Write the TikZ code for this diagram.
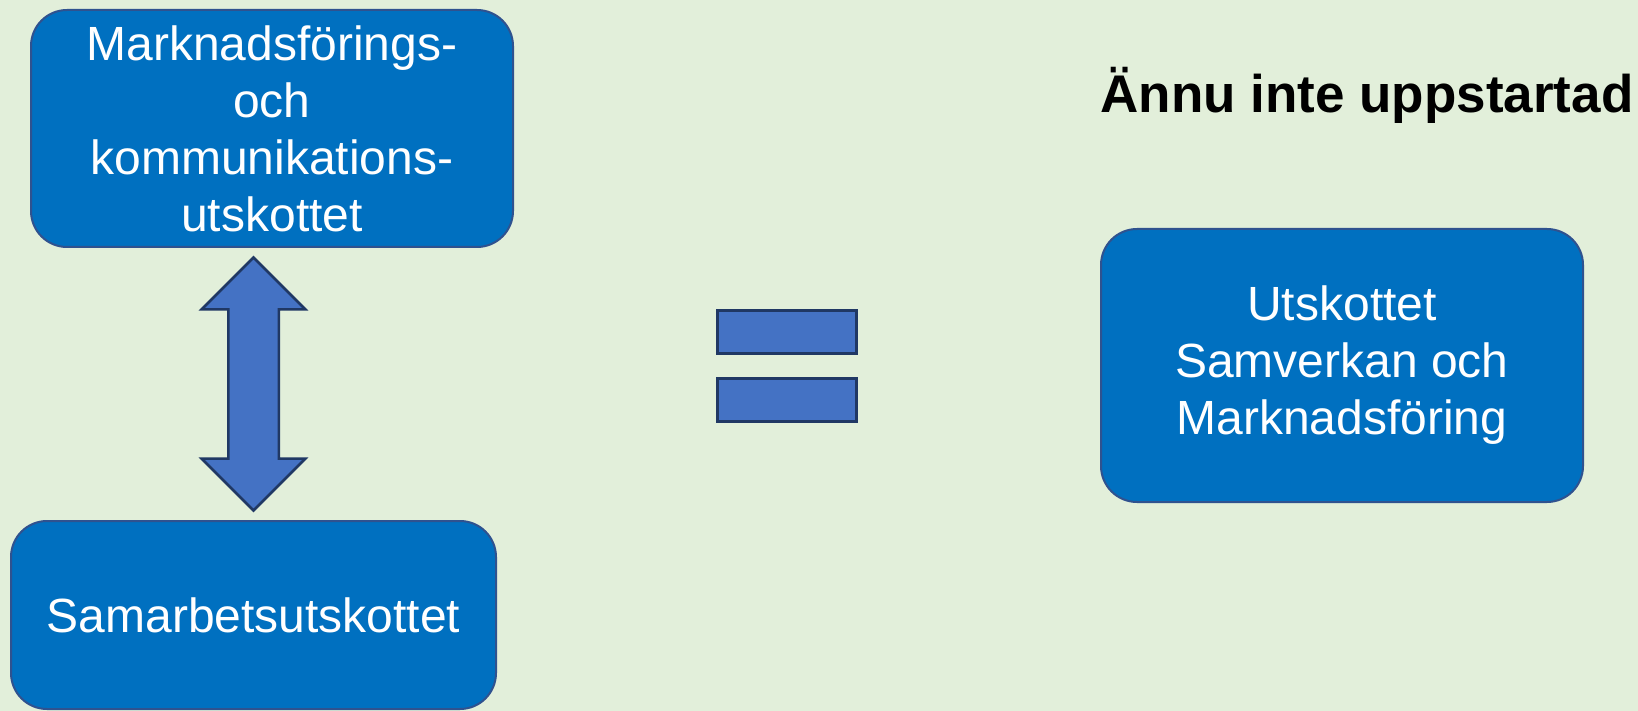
\documentclass[tikz,border=0pt]{standalone}
\usepackage{fontspec}
\setmainfont{Liberation Sans}
\usetikzlibrary{shapes.arrows, positioning, calc}
\definecolor{paper}{HTML}{E2EFDA}
\definecolor{boxblue}{HTML}{0070C0}
\definecolor{boxline}{HTML}{2F528F}
\definecolor{shapeblue}{HTML}{4472C4}
\definecolor{darkline}{HTML}{203864}

\begin{document}
\begin{tikzpicture}[x=1pt, y=-1pt,
    box/.style={draw=boxline, fill=boxblue, line width=2pt, rounded corners=36pt,
        text=white, align=center, inner sep=0pt, font=\fontsize{48}{57}\selectfont},
    bar/.style={draw=darkline, fill=shapeblue, line width=3pt, inner sep=0pt,
        minimum width=139pt, minimum height=43pt},
    link/.style={double arrow, draw=darkline, fill=shapeblue, line width=2.5pt,
        inner xsep=0pt, inner ysep=24pt,
        double arrow head extend=26.5pt, double arrow head indent=0pt,
        minimum height=253pt, minimum width=101pt}]
    \fill[paper] (0,0) rectangle (1638,711);
    \useasboundingbox (0,0) rectangle (1638,711);

    \node[box, minimum width=482pt, minimum height=237pt] (mk) at (272, 128.5)
        {Marknadsförings-\\och\\kommunikations-\\utskottet};
    \node[box, minimum width=485pt, minimum height=188pt] (sam) at (253.5, 615) {Samarbetsutskottet};
    \node[box, minimum width=482pt, minimum height=273pt] (ny) at (1342, 365.5)
        {Utskottet\\Samverkan och\\Marknadsföring};

    \node[anchor=base west, font=\fontsize{53}{60}\selectfont\bfseries] (status) at (1097, 113)
        {Ännu inte uppstartad};

    % double arrow between the two old committees
    \node[link, rotate=90] (mksam) at ($(sam.north)!0.5!(sam.north |- mk.south)$) {};

    % the equals sign
    \node[bar] (eqtop) at (787, 332) {};
    \node[bar, below=22pt of eqtop] (eqbot) {};
\end{tikzpicture}
\end{document}
